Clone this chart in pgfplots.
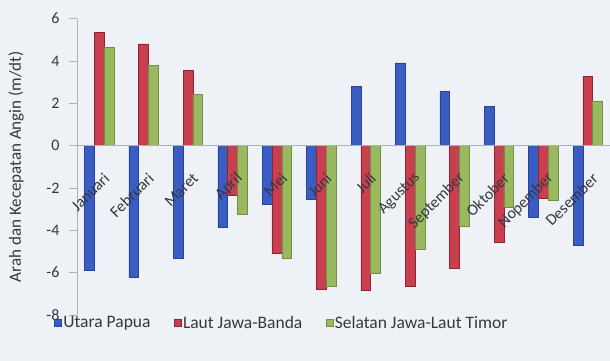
\documentclass[border=0pt]{standalone}
\usepackage{fontspec}
\setmainfont{Carlito}
\usepackage{pgfplots}
\pgfplotsset{compat=1.18}

\definecolor{bgpaper}{HTML}{EEF2F7}
\definecolor{axisgray}{HTML}{A9B1BC}
\definecolor{papua}{HTML}{3A5DC4}
\definecolor{papuaedge}{HTML}{27439A}
\definecolor{banda}{HTML}{C8404F}
\definecolor{bandaedge}{HTML}{8E2431}
\definecolor{timor}{HTML}{98B95E}
\definecolor{timoredge}{HTML}{708F42}
\definecolor{labeltext}{HTML}{333840}

% monthly wind direction and speed (m/dt) per region
\pgfplotstableread{
m  papua  banda  timor
0  -5.90   5.35   4.65
1  -6.20   4.80   3.80
2  -5.30   3.55   2.40
3  -3.85  -2.35  -3.25
4  -2.75  -5.10  -5.30
5  -2.55  -6.80  -6.65
6   2.80  -6.85  -6.05
7   3.90  -6.65  -4.90
8   2.55  -5.80  -3.80
9   1.85  -4.55  -2.90
10 -3.40  -2.50  -2.60
11 -4.70   3.25   2.10
}\angin

\begin{document}
\begin{tikzpicture}
\fill[bgpaper] (-77pt,-46pt) rectangle (533pt,315pt);
\useasboundingbox (-77pt,-46pt) rectangle (533pt,315pt);
\begin{axis}[
  scale only axis,
  width=533pt, height=296.5pt,
  xmin=-0.5, xmax=11.5,
  ymin=-8, ymax=6,
  axis on top,
  axis x line=middle,
  axis y line=left,
  axis line style={-, draw=axisgray, line width=0.8pt},
  hide obscured y ticks=false,
  ytick={-8,-6,...,6},
  xtick={0,...,11},
  xticklabels={Januari,Februari,Maret,April,Mei,Juni,Juli,Agustus,September,Oktober,Nopember,Desember},
  x tick style={draw=none},
  y tick style={draw=axisgray, line width=0.6pt},
  tick align=outside,
  major tick length=8pt,
  /pgf/number format/assume math mode=true,
  yticklabel style={font=\fontsize{16}{19}\selectfont, text=labeltext, xshift=-6pt},
  xticklabel style={font=\fontsize{16}{19}\selectfont, text=labeltext, rotate=45, anchor=east, xshift=-7pt, yshift=-21pt},
  ylabel={Arah dan Kecepatan Angin (m/dt)},
  ylabel style={at={(axis description cs:-0.1144,0.5)}, anchor=center, font=\fontsize{17}{20}\selectfont, text=labeltext},
  ybar=0pt,
  bar width=0.22,
  legend columns=3,
  legend style={at={(0.384,-0.027)}, anchor=center, draw=none, fill=none,
    font=\fontsize{17.5}{20}\selectfont, text=labeltext,
    nodes={inner sep=1.5pt},
    /tikz/every even column/.append style={column sep=22pt}},
  legend image code/.code={\fill[#1] (0pt,-3.5pt) rectangle (7pt,3.5pt);},
]
\addplot[fill=papua, draw=papuaedge, line width=0.5pt] table[x=m, y=papua] {\angin};
\addlegendentry{Utara Papua}
\addplot[fill=banda, draw=bandaedge, line width=0.5pt] table[x=m, y=banda] {\angin};
\addlegendentry{Laut Jawa-Banda}
\addplot[fill=timor, draw=timoredge, line width=0.5pt] table[x=m, y=timor] {\angin};
\addlegendentry{Selatan Jawa-Laut Timor}
\end{axis}
\end{tikzpicture}
\end{document}
